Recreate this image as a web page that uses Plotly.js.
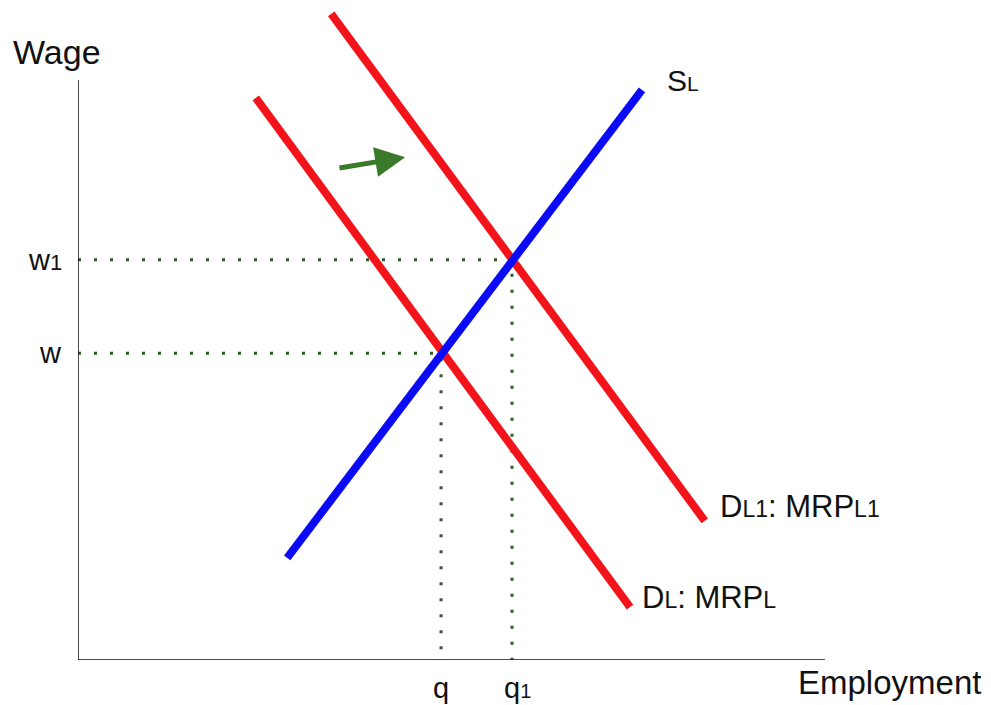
<!DOCTYPE html>
<html>
<head>
<meta charset="utf-8">
<script src="https://cdn.plot.ly/plotly-3.0.1.min.js"></script>
<style>html,body{margin:0;padding:0;background:#fff;}#chart{width:991px;height:705px;}</style>
</head>
<body>
<div id="chart"></div>
<script>
// Curve end points (economic units)
const supplyX = [2.80, 7.55];
const supplyY = [1.76, 9.83];
const demandX = [2.38, 7.39];
const demandY = [9.69, 0.91];
const demand1X = [3.39, 8.39];
const demand1Y = [11.14, 2.40];
// Equilibria
const qVals = [4.86, 5.81];   // q, q1
const wVals = [5.29, 6.90];   // w, w1
const qLabels = ['q', 'q<span style="font-size:20px">1</span>'];
const wLabels = ['w', 'w<span style="font-size:22px">1</span>'];
// Shift arrow (tail -> head)
const arrowTail = [3.48, 8.48];
const arrowHead = [4.38, 8.67];
const axisMax = [10, 10];

const font = 'Liberation Sans, Arial, sans-serif';
const dotColor = '#2f5a26';
const W = 747, H = 660; // plot area size in px

const traces = [];
for (let i = 0; i < qVals.length; i++) {
  traces.push({x: [0, qVals[i], qVals[i]], y: [wVals[i], wVals[i], 0], mode: 'lines',
    line: {color: dotColor, width: 3, dash: '3px,13px'}, hoverinfo: 'skip'});
}
traces.push({x: demandX, y: demandY, mode: 'lines', line: {color: '#f2141a', width: 8}});
traces.push({x: demand1X, y: demand1Y, mode: 'lines', line: {color: '#f2141a', width: 8}});
traces.push({x: supplyX, y: supplyY, mode: 'lines', line: {color: '#0a0af5', width: 8}});

const ann = [];
const tf = (s) => ({family: font, size: s, color: '#111'});
const sub = (t, s) => '<span style="font-size:' + s + 'px">' + t + '</span>';
ann.push({xref: 'paper', yref: 'paper', x: -21 / W, y: (H - 52) / H, text: 'Wage', showarrow: false, xanchor: 'center', yanchor: 'middle', font: tf(34)});
ann.push({xref: 'paper', yref: 'paper', x: 811 / W, y: -43 / H, text: 'Employment', showarrow: false, xanchor: 'center', yanchor: 'bottom', font: tf(33)});
for (let i = 0; i < qVals.length; i++) {
  ann.push({xref: 'x', yref: 'paper', x: qVals[i] + (i ? 0.07 : 0), y: -28 / H, text: qLabels[i], showarrow: false, xanchor: 'center', yanchor: 'middle', font: tf(29)});
  ann.push({xref: 'paper', yref: 'y', x: -14 / W, y: wVals[i], text: wLabels[i], showarrow: false, xanchor: 'right', yanchor: 'middle', font: tf(29)});
}
ann.push({x: 7.86, y: 10.0, text: 'S' + sub('L', 21), showarrow: false, xanchor: 'left', yanchor: 'middle', font: tf(30)});
ann.push({x: 8.57, y: 2.64, text: 'D' + sub('L1', 23) + ': MRP' + sub('L1', 23), showarrow: false, xanchor: 'left', yanchor: 'middle', font: tf(31)});
ann.push({x: 7.52, y: 1.07, text: 'D' + sub('L', 23) + ': MRP' + sub('L', 23), showarrow: false, xanchor: 'left', yanchor: 'middle', font: tf(31)});
ann.push({x: arrowHead[0], y: arrowHead[1], ax: arrowTail[0], ay: arrowTail[1], axref: 'x', ayref: 'y',
  text: '', showarrow: true, arrowhead: 2, arrowsize: 1.2, arrowwidth: 5, arrowcolor: '#3b7a2b'});

const layout = {
  width: 991, height: 705,
  margin: {l: 78, r: 166, t: 0, b: 45},
  paper_bgcolor: '#fff', plot_bgcolor: '#fff',
  showlegend: false,
  xaxis: {range: [0, 10], showgrid: false, zeroline: false, showticklabels: false, showline: false, fixedrange: true},
  yaxis: {range: [0, H / 58], showgrid: false, zeroline: false, showticklabels: false, showline: false, fixedrange: true},
  shapes: [
    {type: 'line', x0: 0, x1: axisMax[0], y0: 0, y1: 0, line: {color: '#111', width: 1.5}},
    {type: 'line', x0: 0, x1: 0, y0: 0, y1: axisMax[1], line: {color: '#111', width: 1.5}}
  ],
  annotations: ann
};
Plotly.newPlot('chart', traces, layout, {displayModeBar: false, staticPlot: true});
</script>
</body>
</html>
